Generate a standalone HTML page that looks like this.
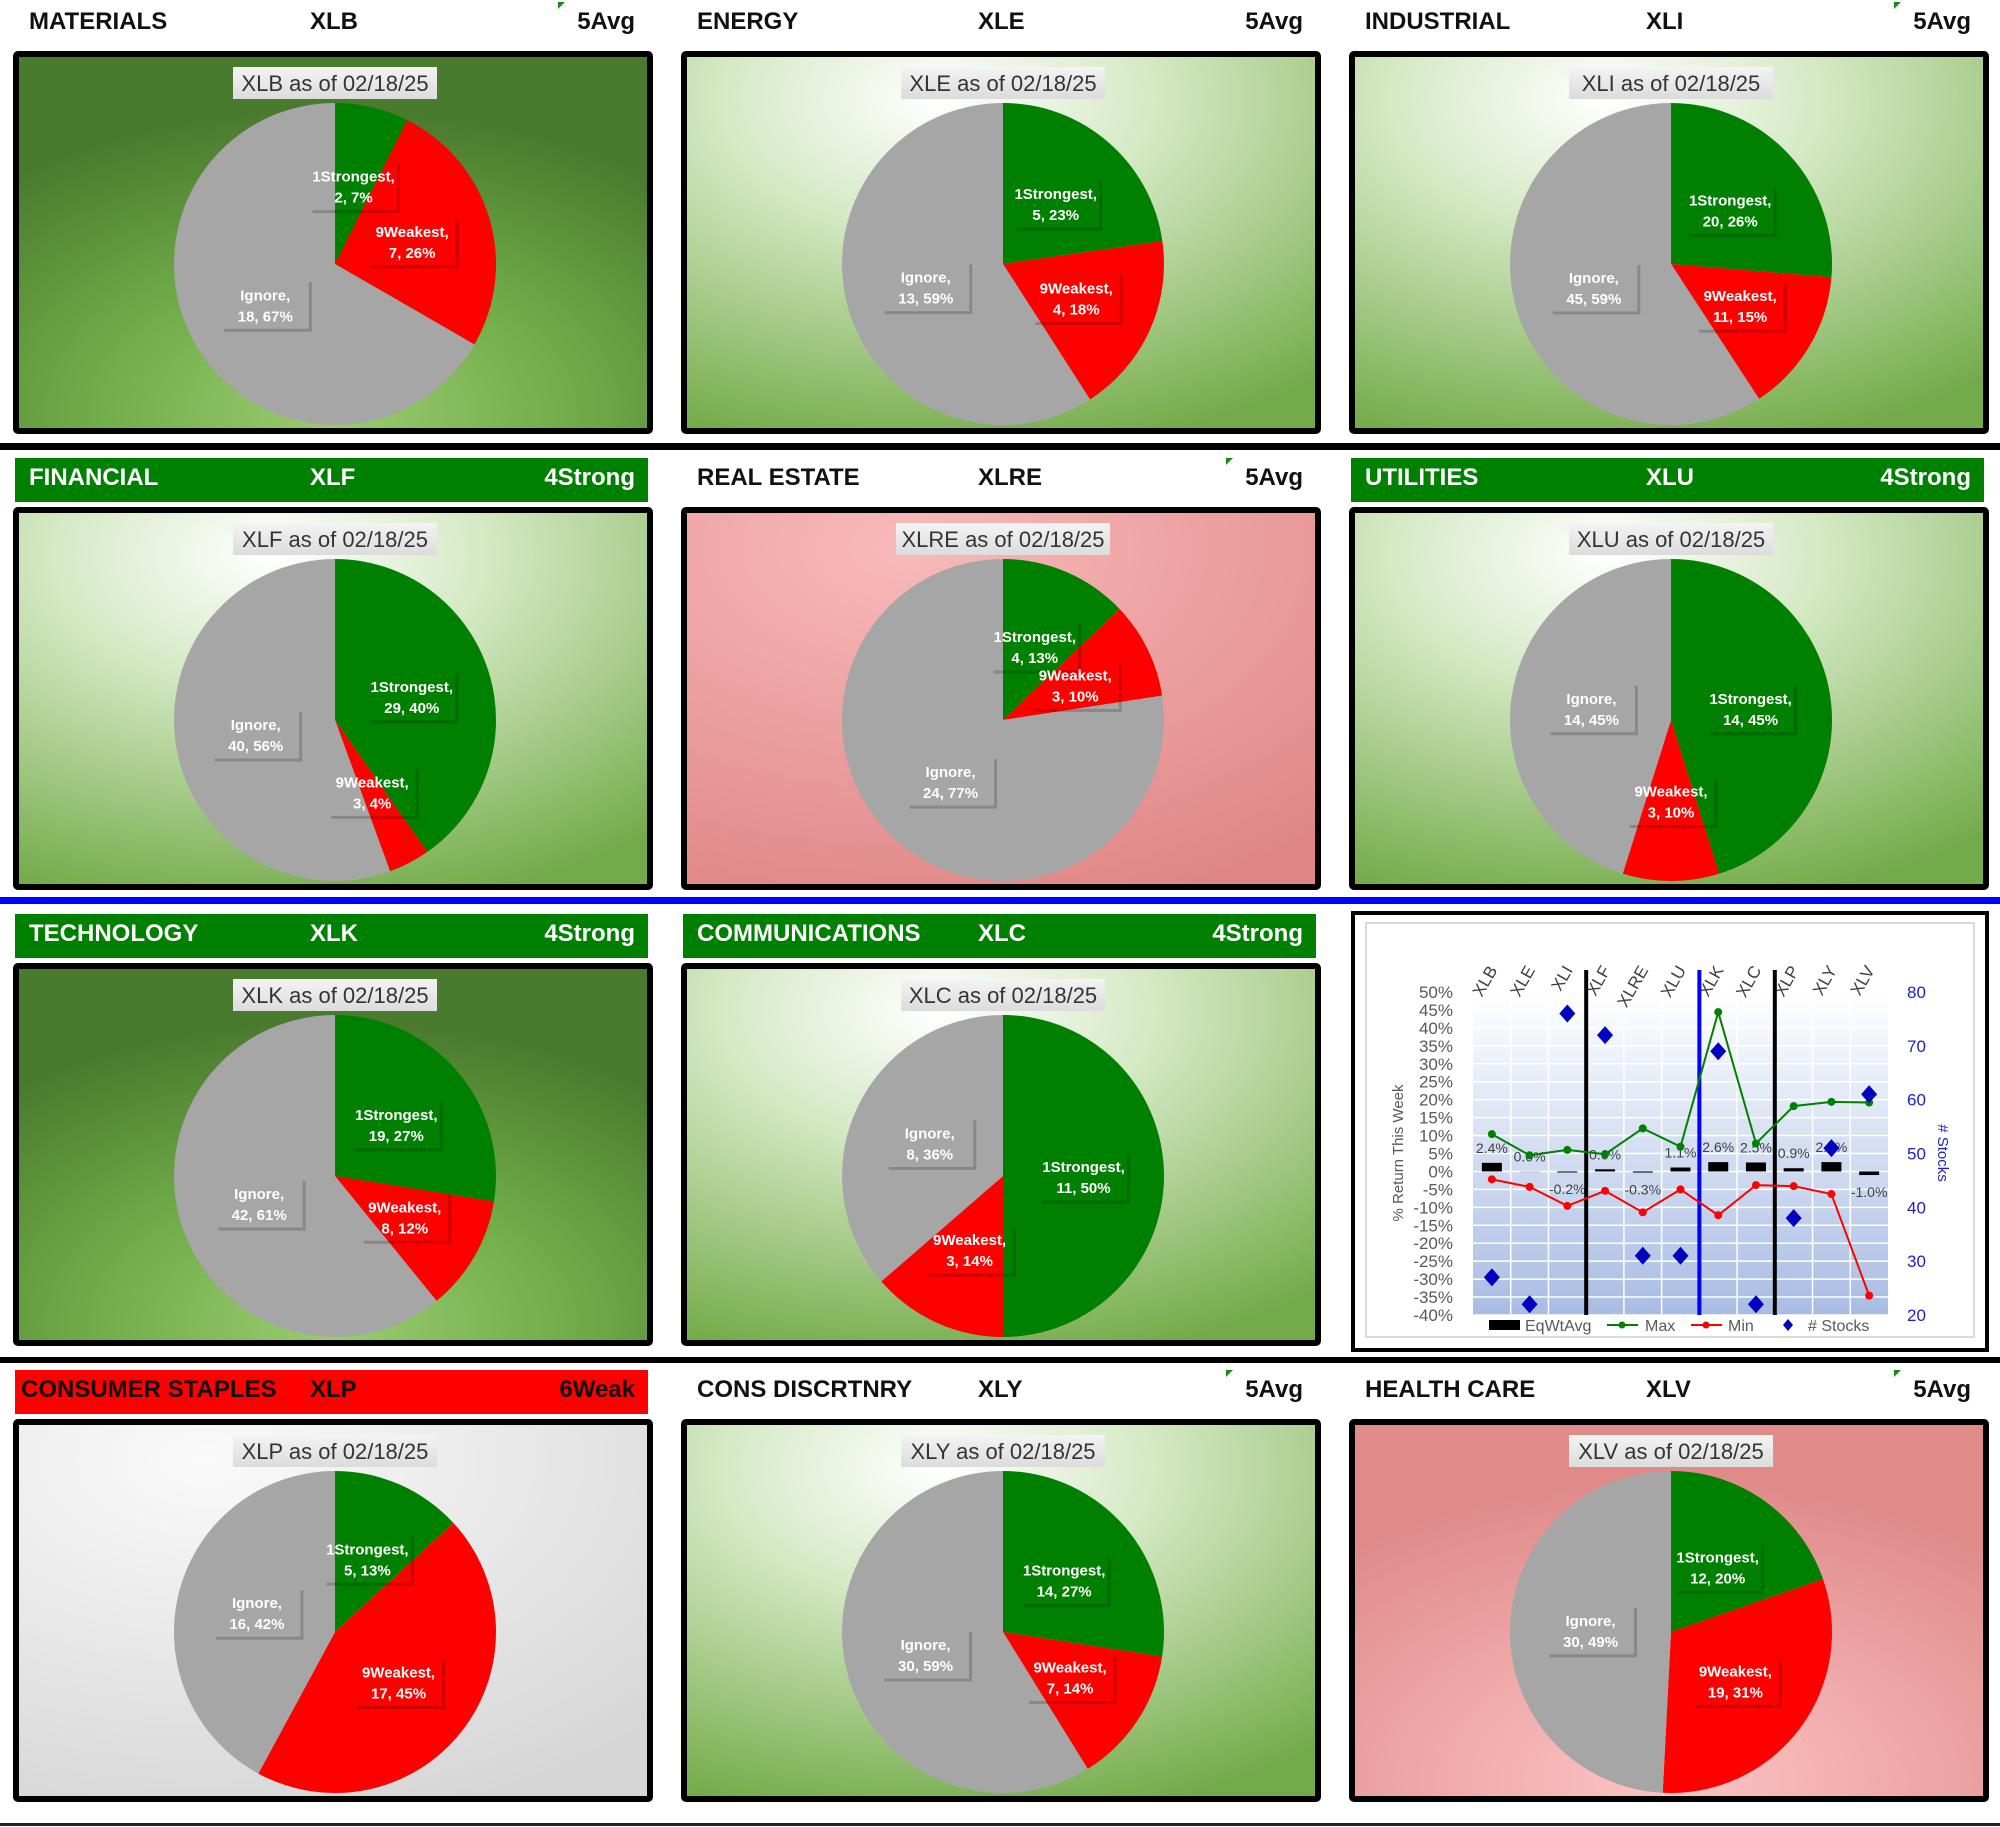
<!DOCTYPE html>
<html><head><meta charset="utf-8">
<style>
html,body{margin:0;padding:0;background:#fff;}
svg{display:block;font-family:"Liberation Sans",Arial,sans-serif;}
</style></head>
<body>
<svg id="page" width="2000" height="1827" viewBox="0 0 2000 1827" xmlns="http://www.w3.org/2000/svg">
<defs>
<radialGradient id="bg-dark" cx="50%" cy="95%" r="80%"><stop offset="0" stop-color="#9bcc72"/><stop offset="0.45" stop-color="#72ae4a"/><stop offset="1" stop-color="#4a7a2e"/></radialGradient>
<radialGradient id="bg-light" cx="40%" cy="12%" r="95%"><stop offset="0" stop-color="#ffffff"/><stop offset="0.35" stop-color="#d6eac6"/><stop offset="1" stop-color="#74ab4a"/></radialGradient>
<radialGradient id="bg-pink" cx="35%" cy="10%" r="100%"><stop offset="0" stop-color="#f8baba"/><stop offset="1" stop-color="#e08686"/></radialGradient>
<radialGradient id="bg-pink2" cx="50%" cy="95%" r="80%"><stop offset="0" stop-color="#fcc4c4"/><stop offset="1" stop-color="#e08a8a"/></radialGradient>
<radialGradient id="bg-gray" cx="30%" cy="10%" r="100%"><stop offset="0" stop-color="#fafafa"/><stop offset="1" stop-color="#d6d6d6"/></radialGradient>
<linearGradient id="title-bg" x1="0" y1="0" x2="0" y2="1"><stop offset="0" stop-color="#f4f4f4"/><stop offset="1" stop-color="#dcdcdc"/></linearGradient>
<linearGradient id="plot-bg" x1="0" y1="0" x2="0" y2="1"><stop offset="0" stop-color="#ffffff"/><stop offset="1" stop-color="#a8bce3"/></linearGradient>
</defs>
<g id="panels"></g>
<g id="chart"></g>
</svg>
<script>
// ---- pie data ----
const tickers = ["XLB","XLE","XLI","XLF","XLRE","XLU","XLK","XLC","XLP","XLY","XLV"];
const sectorNames = ["MATERIALS","ENERGY","INDUSTRIAL","FINANCIAL","REAL ESTATE","UTILITIES","TECHNOLOGY","COMMUNICATIONS","CONSUMER STAPLES","CONS DISCRTNRY","HEALTH CARE"];
const statusLabels = ["5Avg","5Avg","5Avg","4Strong","5Avg","4Strong","4Strong","4Strong","6Weak","5Avg","5Avg"];
const strongCounts = [2,5,20,29,4,14,19,11,5,14,12];
const weakCounts = [7,4,11,3,3,3,8,3,17,7,19];
const ignoreCounts = [18,13,45,40,24,14,42,8,16,30,30];
const strongPct = [7,23,26,40,13,45,27,50,13,27,20];
const weakPct = [26,18,15,4,10,10,12,14,45,14,31];
const ignorePct = [67,59,59,56,77,45,61,36,42,59,49];
const asOfDate = "02/18/25";

const NS="http://www.w3.org/2000/svg";
function mk(tag, attrs, parent){const e=document.createElementNS(NS,tag);for(const k in attrs)e.setAttribute(k,attrs[k]);if(parent)parent.appendChild(e);return e;}

const colX=[13,681,1349];
const rowTop=[-1,455,911,1367];
const headerStyle={"4Strong":"green","6Weak":"red"};
const bgFor={XLB:"bg-dark",XLK:"bg-dark",XLRE:"bg-pink",XLV:"bg-pink2",XLP:"bg-gray"};
const triangleFor={XLB:1,XLI:1,XLRE:1,XLY:1,XLV:1};
const panels=document.getElementById('panels');

[[443,7,"#000"],[897,7,"#0000ff"],[1357,6,"#000"],[1823,3,"#222"]].forEach((s,i)=>{
  const r=mk('rect',{x:0,y:s[0],width:2000,height:s[1],fill:s[2]},panels);
  
  
});

tickers.forEach((t,i)=>{
  const slot = i<8 ? i : i+1;
  const c = slot%3, r = Math.floor(slot/3);
  const x0=colX[c], top=rowTop[r];
  const g=mk('g',{},panels);
  
  
  const hs=headerStyle[statusLabels[i]];
  const hy=top+21;
  if(hs){
    const band=mk('rect',{x:x0+2,y:top+3,width:633,height:44,fill:hs==="green"?"#008000":"#ff0000"},g);
    
    
  }
  const tc = hs==="green" ? "#ffffff" : "#111111";
  const nm=mk('text',{x:x0+(hs==="red"?8:16),y:hy+9,'font-size':24,'font-weight':'bold',fill:tc},g);nm.textContent=sectorNames[i];
  
  const tk=mk('text',{x:x0+297,y:hy+9,'font-size':24,'font-weight':'bold',fill:tc},g);tk.textContent=t;
  
  const st=mk('text',{x:x0+622,y:hy+9,'font-size':24,'font-weight':'bold',fill:tc,'text-anchor':'end'},g);st.textContent=statusLabels[i];
  
  if(triangleFor[t]){
    const tri=mk('polygon',{points:`${x0+545},${top+3} ${x0+552},${top+3} ${x0+545},${top+10}`,fill:"#1a8a1a"},g);
    
  }
  const by=top+52;
  const box=mk('rect',{x:x0+3,y:by+3,width:634,height:377,fill:`url(#${bgFor[t]||'bg-light'})`,stroke:"#000","stroke-width":6,rx:2},g);
  
  const cx=x0+322, cy=by+213, R=161;
  const vals=[strongCounts[i],weakCounts[i],ignoreCounts[i]];
  const pcts=[strongPct[i],weakPct[i],ignorePct[i]];
  const tot=vals[0]+vals[1]+vals[2];
  const cols=["#008000","#ff0000","#a6a6a6"];
  const names=["1Strongest","9Weakest","Ignore"];
  let a=0;
  const mids=[];
  vals.forEach((v,k)=>{
    const a1=a+v/tot*2*Math.PI;
    const large=(a1-a)>Math.PI?1:0;
    const p=`M${cx},${cy} L${cx+R*Math.sin(a)},${cy-R*Math.cos(a)} A${R},${R} 0 ${large} 1 ${cx+R*Math.sin(a1)},${cy-R*Math.cos(a1)} Z`;
    const sl=mk('path',{d:p,fill:cols[k]},g);
    
    
    mids.push((a+a1)/2);a=a1;
  });
  vals.forEach((v,k)=>{
    const m=mids[k];
    const lx=cx+0.5*R*Math.sin(m), ly=cy-0.5*R*Math.cos(m);
    const lg=mk('g',{},g);
    
    
    mk('polyline',{points:`${lx+45},${ly-22} ${lx+45},${ly+26} ${lx-41},${ly+26}`,fill:"none",stroke:"rgba(0,0,0,0.18)","stroke-width":3},lg);
    const l1=mk('text',{x:lx,y:ly-4,'font-size':15,'font-weight':'bold',fill:'#fff','text-anchor':'middle'},lg);l1.textContent=names[k]+",";
    const l2=mk('text',{x:lx,y:ly+17,'font-size':15,'font-weight':'bold',fill:'#fff','text-anchor':'middle'},lg);l2.textContent=v+", "+pcts[k]+"%";
  });
  const tg=mk('g',{},g);
  
  const tw = t.length>3?214:204;
  mk('rect',{x:cx-tw/2,y:by+16,width:tw,height:32,fill:"url(#title-bg)"},tg);
  const tt=mk('text',{x:cx,y:by+40,'font-size':22,fill:'#333','text-anchor':'middle'},tg);tt.textContent=t+" as of "+asOfDate;
});
</script>
<script>
// ---- summary chart data ----
const categories = ["XLB","XLE","XLI","XLF","XLRE","XLU","XLK","XLC","XLP","XLY","XLV"];
const eqWtAvg = [2.4,0.0,-0.2,0.6,-0.3,1.1,2.6,2.5,0.9,2.6,-1.0];
const maxVals = [10.4,4.5,6.0,4.8,12.0,6.9,44.4,7.8,18.2,19.4,19.2];
const minVals = [-2.2,-4.3,-9.6,-5.4,-11.4,-5.0,-12.2,-3.8,-4.1,-6.3,-34.6];
const stockCounts = [27,22,76,72,31,31,69,22,38,51,61];
const yTicks = [50,45,40,35,30,25,20,15,10,5,0,-5,-10,-15,-20,-25,-30,-35,-40];
const y2Ticks = [80,70,60,50,40,30,20];
const dividerAfter = [2,7];
const highlightAfter = [5];

const ch=document.getElementById('chart');
const PL=1473, PR=1888, PT=992, PB=1315;
const yMin=-40,yMax=50,y2Min=20,y2Max=80;
const yScale=v=>PB-(v-yMin)/(yMax-yMin)*(PB-PT);
const y2Scale=v=>PB-(v-y2Min)/(y2Max-y2Min)*(PB-PT);
const bw=(PR-PL)/categories.length;
const xScale=i=>PL+bw*(i+0.5);

const frame=mk('rect',{x:1353,y:913,width:634,height:437,fill:"#fff",stroke:"#000","stroke-width":4},ch);

const inner=mk('rect',{x:1366,y:923,width:608,height:414,fill:"none",stroke:"#d9d9d9","stroke-width":2},ch);

const plot=mk('rect',{x:PL,y:PT,width:PR-PL,height:PB-PT,fill:"url(#plot-bg)"},ch);


yTicks.forEach(v=>{
  const y=yScale(v);
  const gl=mk('line',{x1:PL,x2:PR,y1:y,y2:y,stroke:"#fff","stroke-width":1.5},ch);
  
  const tl=mk('text',{x:PL-20,y:y+6,'font-size':17,fill:'#595959','text-anchor':'end'},ch);tl.textContent=v+"%";
  
});
categories.forEach((c,i)=>{
  const x=PL+bw*i;
  if(i>0){const vl=mk('line',{x1:x,x2:x,y1:PT,y2:PB,stroke:"#fff","stroke-width":1.5},ch);
    }
  const cl=mk('text',{x:xScale(i)+6,y:970,'font-size':17,fill:'#404040','text-anchor':'end',transform:`rotate(-60 ${xScale(i)+6} 970)`},ch);cl.textContent=c;
  
});
y2Ticks.forEach(v=>{
  const t=mk('text',{x:1907,y:y2Scale(v)+6,'font-size':17,fill:'#2020c8'},ch);t.textContent=v;
  
});
const yt=mk('text',{x:1403,y:1153,'font-size':15,fill:'#595959','text-anchor':'middle',transform:'rotate(-90 1403 1153)'},ch);yt.textContent="% Return This Week";

const y2t=mk('text',{x:1938,y:1153,'font-size':15,fill:'#2020c8','text-anchor':'middle',transform:'rotate(90 1938 1153)'},ch);y2t.textContent="# Stocks";


eqWtAvg.forEach((v,i)=>{
  const y0=yScale(0), y1=yScale(v);
  const h=Math.max(Math.abs(y1-y0),1);
  const b=mk('rect',{x:xScale(i)-10,y:Math.min(y0,y1),width:20,height:h,fill:v===0?"#bfbfbf":"#000"},ch);
  
  
  const ly = v>=0 ? Math.min(y0,y1)-10 : Math.max(y0,y1)+22;
  const lt=mk('text',{x:xScale(i),y:ly,'font-size':14,fill:'#404040','text-anchor':'middle'},ch);lt.textContent=v.toFixed(1)+"%";
  
});
dividerAfter.forEach(k=>{
  const x=PL+bw*(k+1);
  const l=mk('line',{x1:x,x2:x,y1:970,y2:PB,stroke:"#000","stroke-width":4},ch);
  
});
highlightAfter.forEach(k=>{
  const x=PL+bw*(k+1);
  const l=mk('line',{x1:x,x2:x,y1:970,y2:PB,stroke:"#0000ff","stroke-width":4},ch);
  
});
function series(vals,color,name){
  const pl=mk('polyline',{points:vals.map((v,i)=>xScale(i)+","+yScale(v)).join(" "),fill:"none",stroke:color,"stroke-width":2},ch);
  
  vals.forEach((v,i)=>{
    const c=mk('circle',{cx:xScale(i),cy:yScale(v),r:4,fill:color},ch);
    
  });
}
series(maxVals,"#008000","max");
series(minVals,"#ff0000","min");
stockCounts.forEach((v,i)=>{
  const x=xScale(i),y=y2Scale(v);
  const d=mk('polygon',{points:`${x},${y-9} ${x+8},${y} ${x},${y+9} ${x-8},${y}`,fill:"#0000c0"},ch);
  
  
});
const lg=mk('g',{},ch);

mk('rect',{x:1489,y:1320,width:31,height:10,fill:"#000"},lg);
let t1=mk('text',{x:1525,y:1331,'font-size':16,fill:'#595959'},lg);t1.textContent="EqWtAvg";
mk('line',{x1:1607,x2:1638,y1:1325,y2:1325,stroke:"#008000","stroke-width":2},lg);
mk('circle',{cx:1622,cy:1325,r:3.5,fill:"#008000"},lg);
let t2=mk('text',{x:1645,y:1331,'font-size':16,fill:'#595959'},lg);t2.textContent="Max";
mk('line',{x1:1691,x2:1722,y1:1325,y2:1325,stroke:"#ff0000","stroke-width":2},lg);
mk('circle',{cx:1706,cy:1325,r:3.5,fill:"#ff0000"},lg);
let t3=mk('text',{x:1728,y:1331,'font-size':16,fill:'#595959'},lg);t3.textContent="Min";
mk('polygon',{points:"1788,1319 1793,1325 1788,1331 1783,1325",fill:"#0000c0"},lg);
let t4=mk('text',{x:1808,y:1331,'font-size':16,fill:'#595959'},lg);t4.textContent="# Stocks";
</script>
</body></html>
